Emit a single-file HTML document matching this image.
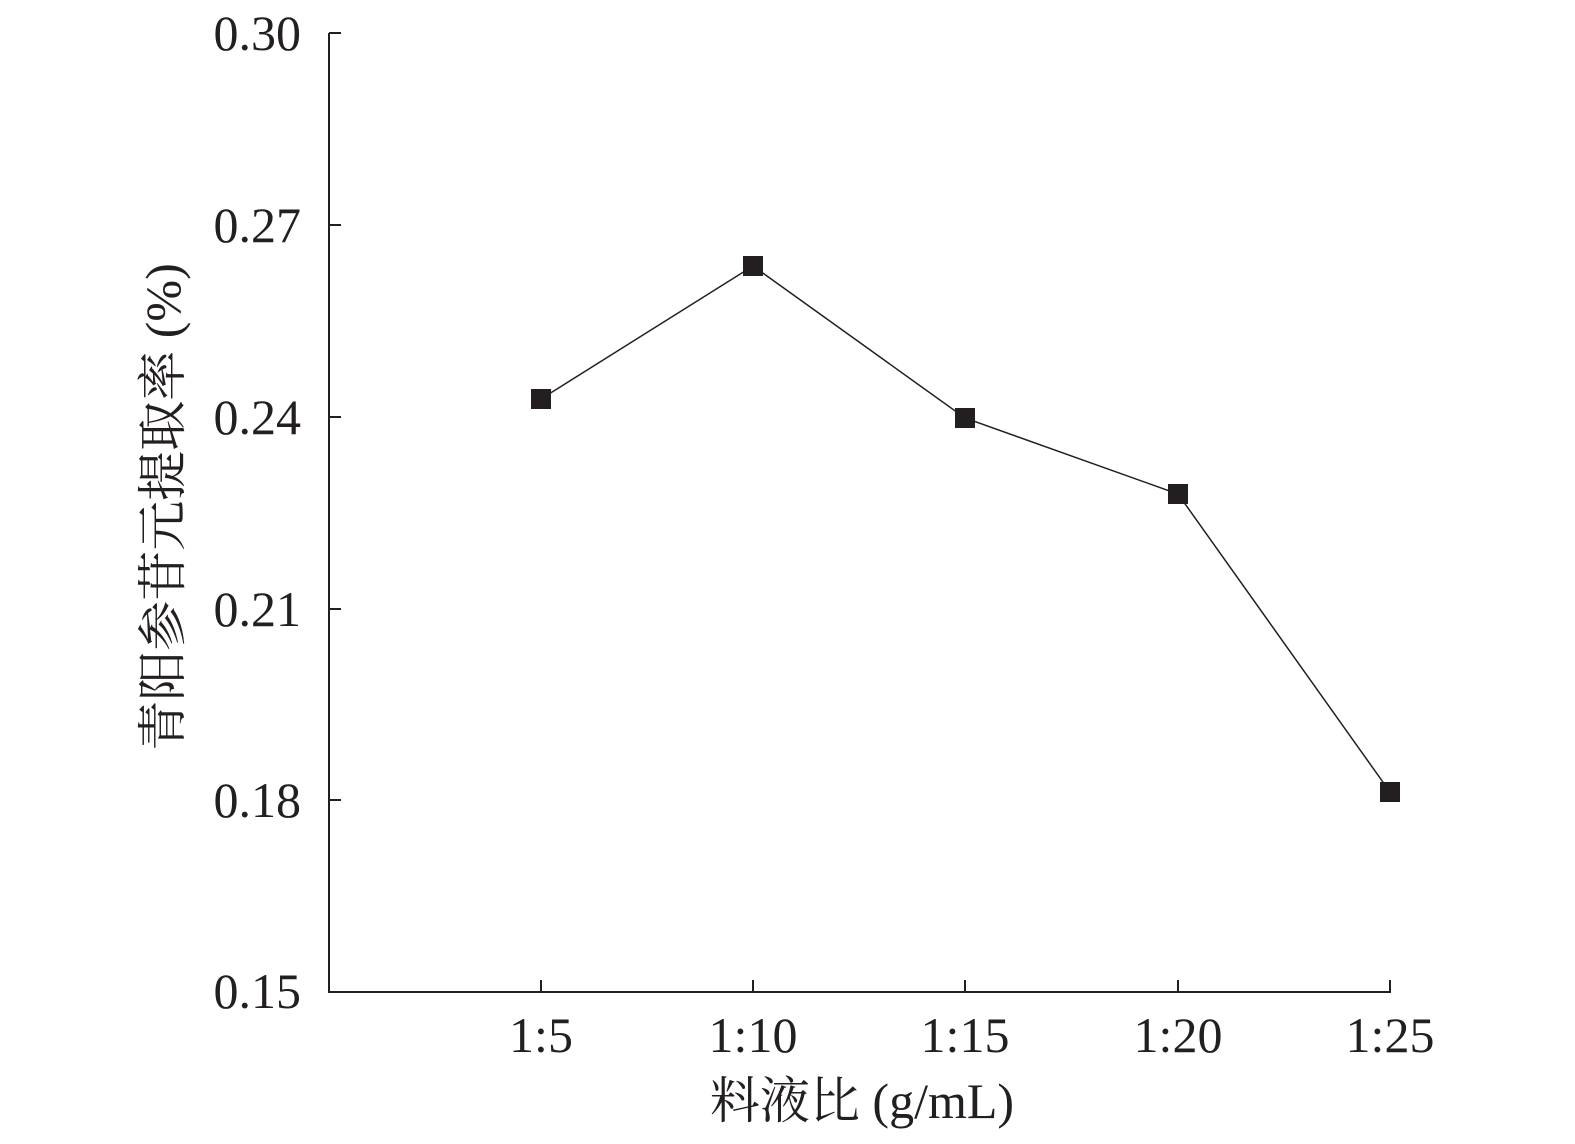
<!DOCTYPE html>
<html><head><meta charset="utf-8"><style>
body{margin:0;background:#fff}
svg{display:block}
text{font-family:"Liberation Serif","Noto Serif CJK SC",serif;fill:#231f20}
</style></head><body>
<svg width="1575" height="1144" viewBox="0 0 1575 1144" xmlns="http://www.w3.org/2000/svg">
<g stroke="#231f20" stroke-width="2" fill="none">
<line x1="329" y1="33" x2="329" y2="993"/>
<line x1="328" y1="992" x2="1391" y2="992"/>
<line x1="329" y1="33" x2="341" y2="33"/>
<line x1="329" y1="225" x2="341" y2="225"/>
<line x1="329" y1="417" x2="341" y2="417"/>
<line x1="329" y1="609" x2="341" y2="609"/>
<line x1="329" y1="800" x2="341" y2="800"/>
<line x1="541" y1="980" x2="541" y2="992"/>
<line x1="753" y1="980" x2="753" y2="992"/>
<line x1="965" y1="980" x2="965" y2="992"/>
<line x1="1178" y1="980" x2="1178" y2="992"/>
<line x1="1390" y1="980" x2="1390" y2="992"/>
<polyline stroke-width="1.5" points="541,399 753,266 965,418 1178,494 1390,792"/>
</g>
<g fill="#231f20">
<rect x="531" y="389" width="20" height="20"/>
<rect x="743" y="256" width="20" height="20"/>
<rect x="955" y="408" width="20" height="20"/>
<rect x="1168" y="484" width="20" height="20"/>
<rect x="1380" y="782" width="20" height="20"/>
</g>
<g font-size="50" text-anchor="end">
<text x="301" y="50">0.30</text>
<text x="301" y="242">0.27</text>
<text x="301" y="434">0.24</text>
<text x="301" y="626">0.21</text>
<text x="301" y="817">0.18</text>
<text x="301" y="1008">0.15</text>
</g>
<g font-size="50" text-anchor="middle">
<text x="541" y="1052">1:5</text>
<text x="753" y="1052">1:10</text>
<text x="965" y="1052">1:15</text>
<text x="1178" y="1052">1:20</text>
<text x="1390" y="1052">1:25</text>
<text x="862" y="1118">料液比 (g/mL)</text>
<text transform="translate(180,507) rotate(-90)">青阳参苷元提取率 (%)</text>
</g>
</svg>
</body></html>
